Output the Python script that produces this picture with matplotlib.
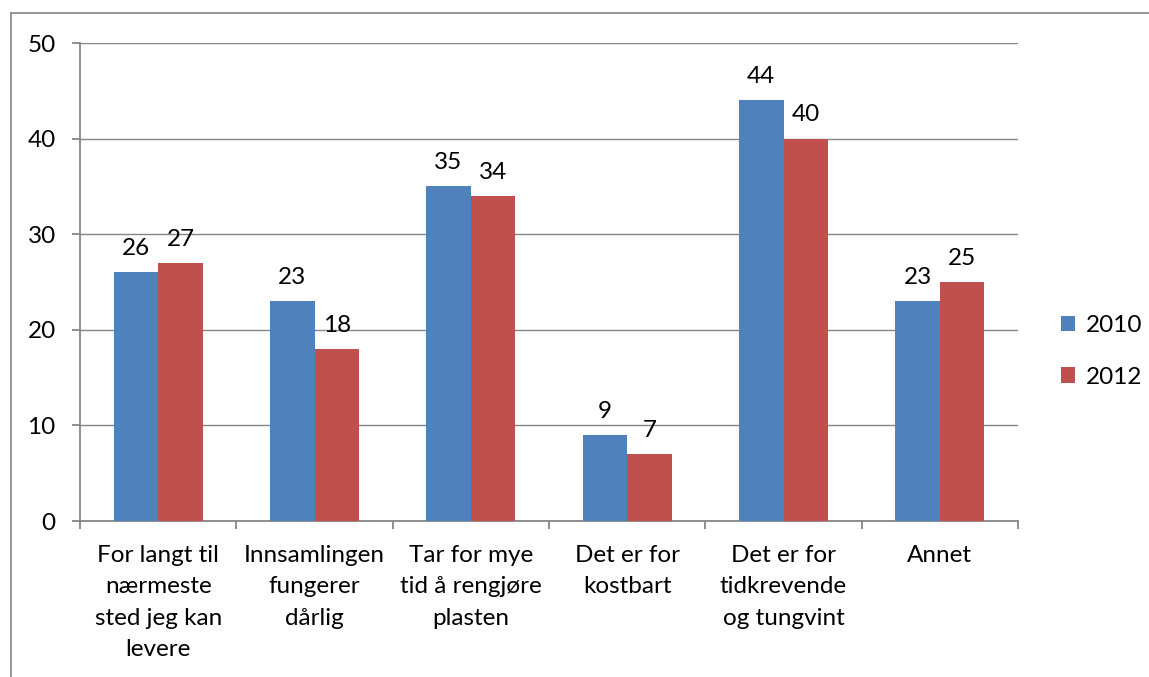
import matplotlib.pyplot as plt
import numpy as np
from matplotlib.lines import Line2D

categories = ["For langt til\nnærmeste\nsted jeg kan\nlevere",
              "Innsamlingen\nfungerer\ndårlig",
              "Tar for mye\ntid å rengjøre\nplasten",
              "Det er for\nkostbart",
              "Det er for\ntidkrevende\nog tungvint",
              "Annet"]
values_2010 = [26, 23, 35, 9, 44, 23]
values_2012 = [27, 18, 34, 7, 40, 25]
years = ["2010", "2012"]
colors = ["#4F81BD", "#C0504D"]
yticks = [0, 10, 20, 30, 40, 50]

plt.rcParams['font.family'] = ['Lato', 'DejaVu Sans']
fs = 17.5
grey = "#868686"

fig = plt.figure(figsize=(11.49, 6.77), dpi=100)
ax = fig.add_axes([80/1149, 1 - 521/677, (1018-80)/1149, (521-43)/677])

x = np.arange(len(categories))
w = 0.285
for i, (vals, lab, col) in enumerate(zip([values_2010, values_2012], years, colors)):
    pos = x + (i - 0.5) * w
    bars = ax.bar(pos, vals, width=w, color=col, label=lab, zorder=3)
    for b, v in zip(bars, vals):
        ax.annotate(str(v), (b.get_x() + b.get_width()/2, v), xytext=(0, 9.5),
                    textcoords="offset points", ha="center", va="bottom", fontsize=fs)

ax.set_xlim(-0.5, len(categories) - 0.5)
ax.set_ylim(0, 50)
ax.set_yticks(yticks)
ax.yaxis.grid(True, color=grey, linewidth=1, zorder=0)
ax.set_axisbelow(True)
for s in ["top", "right"]:
    ax.spines[s].set_visible(False)
for s in ["left", "bottom"]:
    ax.spines[s].set_color(grey)
    ax.spines[s].set_linewidth(1.3)

ax.set_xticks(x)
ax.set_xticklabels(categories, fontsize=fs, linespacing=1.62)
ax.set_xticks(np.arange(-0.5, len(categories)), minor=True)
ax.tick_params(axis="x", which="major", length=0, pad=17)
ax.tick_params(axis="x", which="minor", length=5.5, color=grey, width=1.3)
ax.tick_params(axis="y", length=5.5, color=grey, width=1.3, pad=12, labelsize=fs)

ax.legend(loc="center left", bbox_to_anchor=(1.022, 0.355), frameon=False, fontsize=fs,
          handlelength=0.6, handleheight=0.6, handletextpad=0.45, labelspacing=1.25)

# outer chart frame (partly cropped)
fig.add_artist(Line2D([11/1149, 1], [1 - 13/677, 1 - 13/677], color="#8c8c8c", lw=1.3,
                      transform=fig.transFigure))
fig.add_artist(Line2D([11/1149, 11/1149], [0, 1 - 13/677], color="#8c8c8c", lw=1.3,
                      transform=fig.transFigure))

fig.savefig("out.png", dpi=100)
